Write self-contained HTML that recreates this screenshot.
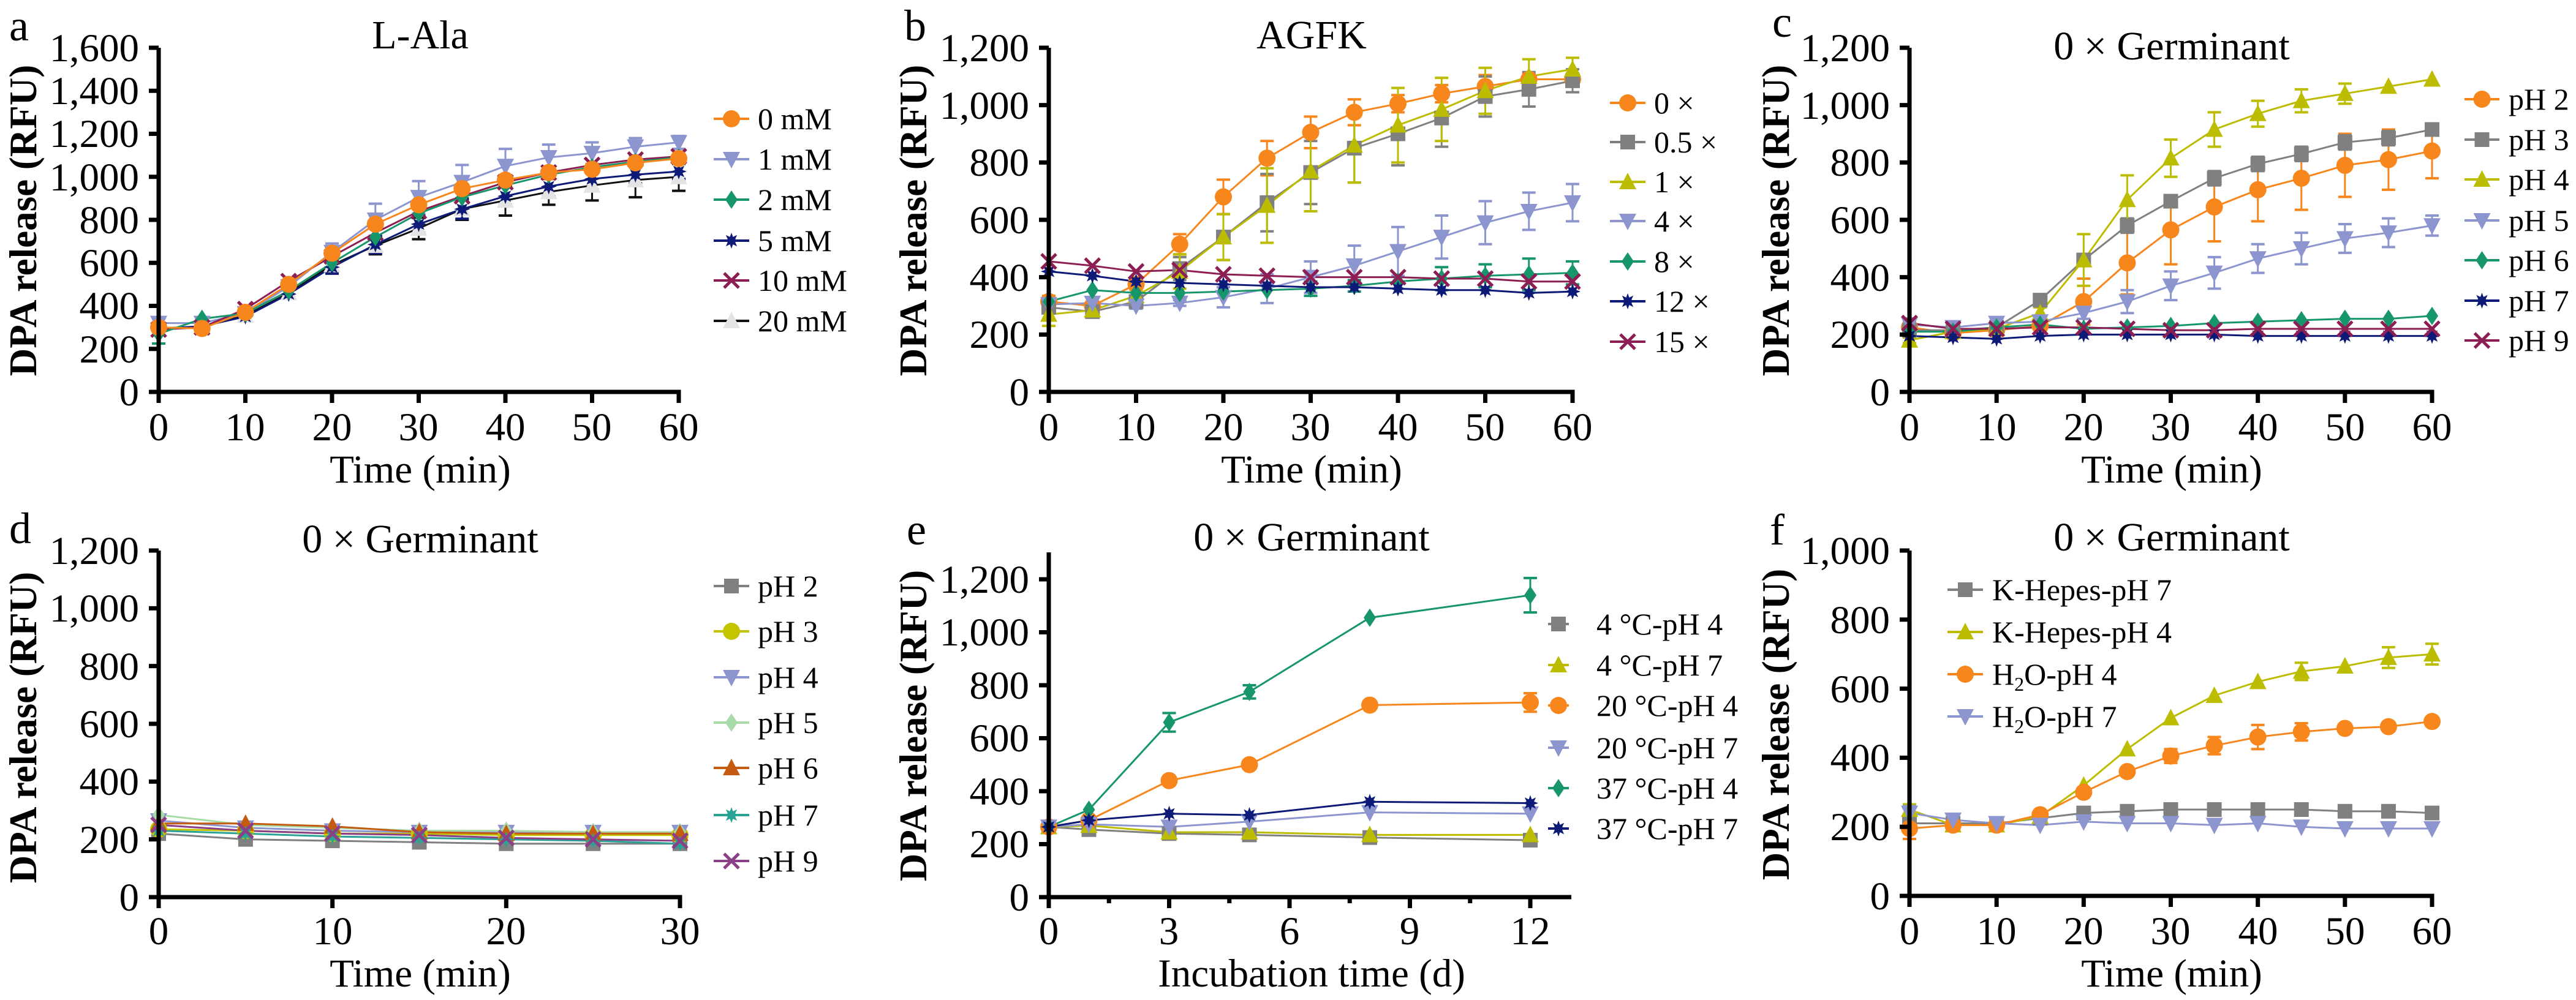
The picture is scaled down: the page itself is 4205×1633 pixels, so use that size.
<!DOCTYPE html>
<html><head><meta charset="utf-8"><style>
html,body{margin:0;padding:0;background:#fff}
svg{display:block;font-family:"Liberation Serif","Times New Roman",Times,"Nimbus Roman","DejaVu Serif",serif}
svg text{font-family:"Liberation Serif","Times New Roman",Times,"Nimbus Roman","DejaVu Serif",serif;fill:#000}
.t{font-size:65px}
.yl{font-size:65px;text-anchor:end}
.xl{font-size:65px;text-anchor:middle}
.ti{font-size:66px;text-anchor:middle}
.ax{font-size:63px;font-weight:bold;text-anchor:middle}
.pl{font-size:72px}
.lg{font-size:50px}
</style></head><body>
<svg id="s" xmlns="http://www.w3.org/2000/svg" width="4205" height="1633" viewBox="0 0 4205 1633" font-family="Liberation Serif, Times New Roman, serif">
<rect width="4205" height="1633" fill="#fff"/>
<g id="g"></g>
<text class="pl" x="15" y="66">a</text>
<text class="pl" x="1476" y="66">b</text>
<text class="pl" x="2893" y="60">c</text>
<text class="pl" x="15" y="887">d</text>
<text class="pl" x="1480" y="889">e</text>
<text class="pl" x="2889" y="889">f</text>
<text class="ti" x="686" y="79">L-Ala</text>
<text class="ti" x="2141" y="79">AGFK</text>
<text class="ti" x="3545" y="97">0 × Germinant</text>
<text class="ti" x="686" y="902">0 × Germinant</text>
<text class="ti" x="2141" y="899">0 × Germinant</text>
<text class="ti" x="3545" y="899">0 × Germinant</text>
<text class="ax" transform="translate(59,360) rotate(-90)">DPA release (RFU)</text>
<text class="ax" transform="translate(1512,360) rotate(-90)">DPA release (RFU)</text>
<text class="ax" transform="translate(2920,360) rotate(-90)">DPA release (RFU)</text>
<text class="ax" transform="translate(59,1188) rotate(-90)">DPA release (RFU)</text>
<text class="ax" transform="translate(1512,1185) rotate(-90)">DPA release (RFU)</text>
<text class="ax" transform="translate(2920,1183) rotate(-90)">DPA release (RFU)</text>
<text class="xl" x="686" y="788">Time (min)</text>
<text class="xl" x="2141" y="788">Time (min)</text>
<text class="xl" x="3545" y="788">Time (min)</text>
<text class="xl" x="686" y="1611">Time (min)</text>
<text class="xl" x="2141" y="1611">Incubation time (d)</text>
<text class="xl" x="3545" y="1611">Time (min)</text>
<g>
<text class="yl" x="227" y="662">0</text><text class="yl" x="227" y="592">200</text><text class="yl" x="227" y="521">400</text><text class="yl" x="227" y="451">600</text><text class="yl" x="227" y="381">800</text><text class="yl" x="227" y="311">1,000</text><text class="yl" x="227" y="240">1,200</text><text class="yl" x="227" y="170">1,400</text><text class="yl" x="227" y="100">1,600</text>
<text class="yl" x="1680" y="662">0</text><text class="yl" x="1680" y="568">200</text><text class="yl" x="1680" y="475">400</text><text class="yl" x="1680" y="381">600</text><text class="yl" x="1680" y="287">800</text><text class="yl" x="1680" y="194">1,000</text><text class="yl" x="1680" y="100">1,200</text>
<text class="yl" x="3085" y="662">0</text><text class="yl" x="3085" y="568">200</text><text class="yl" x="3085" y="475">400</text><text class="yl" x="3085" y="381">600</text><text class="yl" x="3085" y="287">800</text><text class="yl" x="3085" y="194">1,000</text><text class="yl" x="3085" y="100">1,200</text>
<text class="yl" x="227" y="1487">0</text><text class="yl" x="227" y="1393">200</text><text class="yl" x="227" y="1298">400</text><text class="yl" x="227" y="1204">600</text><text class="yl" x="227" y="1110">800</text><text class="yl" x="227" y="1015">1,000</text><text class="yl" x="227" y="921">1,200</text>
<text class="yl" x="1680" y="1487">0</text><text class="yl" x="1680" y="1400">200</text><text class="yl" x="1680" y="1314">400</text><text class="yl" x="1680" y="1227">600</text><text class="yl" x="1680" y="1141">800</text><text class="yl" x="1680" y="1054">1,000</text><text class="yl" x="1680" y="968">1,200</text>
<text class="yl" x="3085" y="1485">0</text><text class="yl" x="3085" y="1372">200</text><text class="yl" x="3085" y="1259">400</text><text class="yl" x="3085" y="1147">600</text><text class="yl" x="3085" y="1034">800</text><text class="yl" x="3085" y="921">1,000</text>
</g>
<text class="xl" x="259" y="719">0</text><text class="xl" x="400" y="719">10</text><text class="xl" x="542" y="719">20</text><text class="xl" x="683" y="719">30</text><text class="xl" x="825" y="719">40</text><text class="xl" x="966" y="719">50</text><text class="xl" x="1108" y="719">60</text>
<text class="xl" x="1712" y="719">0</text><text class="xl" x="1854" y="719">10</text><text class="xl" x="1997" y="719">20</text><text class="xl" x="2139" y="719">30</text><text class="xl" x="2282" y="719">40</text><text class="xl" x="2424" y="719">50</text><text class="xl" x="2567" y="719">60</text>
<text class="xl" x="3117" y="719">0</text><text class="xl" x="3259" y="719">10</text><text class="xl" x="3401" y="719">20</text><text class="xl" x="3543" y="719">30</text><text class="xl" x="3686" y="719">40</text><text class="xl" x="3828" y="719">50</text><text class="xl" x="3970" y="719">60</text>
<text class="xl" x="259" y="1542">0</text><text class="xl" x="543" y="1542">10</text><text class="xl" x="826" y="1542">20</text><text class="xl" x="1110" y="1542">30</text>
<text class="xl" x="1712" y="1542">0</text><text class="xl" x="1908" y="1542">3</text><text class="xl" x="2105" y="1542">6</text><text class="xl" x="2301" y="1542">9</text><text class="xl" x="2498" y="1542">12</text>
<text class="xl" x="3117" y="1542">0</text><text class="xl" x="3259" y="1542">10</text><text class="xl" x="3401" y="1542">20</text><text class="xl" x="3543" y="1542">30</text><text class="xl" x="3686" y="1542">40</text><text class="xl" x="3828" y="1542">50</text><text class="xl" x="3970" y="1542">60</text>
<g>
<text class="lg" x="1237" y="211">0 mM</text><text class="lg" x="1237" y="277">1 mM</text><text class="lg" x="1237" y="343">2 mM</text><text class="lg" x="1237" y="410">5 mM</text><text class="lg" x="1237" y="475">10 mM</text><text class="lg" x="1237" y="541">20 mM</text>
<text class="lg" x="2700" y="185">0 ×</text><text class="lg" x="2700" y="249">0.5 ×</text><text class="lg" x="2700" y="314">1 ×</text><text class="lg" x="2700" y="378">4 ×</text><text class="lg" x="2700" y="444">8 ×</text><text class="lg" x="2700" y="509">12 ×</text><text class="lg" x="2700" y="575">15 ×</text>
<text class="lg" x="4095" y="179">pH 2</text><text class="lg" x="4095" y="245">pH 3</text><text class="lg" x="4095" y="310">pH 4</text><text class="lg" x="4095" y="377">pH 5</text><text class="lg" x="4095" y="442">pH 6</text><text class="lg" x="4095" y="508">pH 7</text><text class="lg" x="4095" y="573">pH 9</text>
<text class="lg" x="1237" y="974">pH 2</text><text class="lg" x="1237" y="1048">pH 3</text><text class="lg" x="1237" y="1123">pH 4</text><text class="lg" x="1237" y="1197">pH 5</text><text class="lg" x="1237" y="1271">pH 6</text><text class="lg" x="1237" y="1348">pH 7</text><text class="lg" x="1237" y="1423">pH 9</text>
<text class="lg" x="2606" y="1036">4 °C-pH 4</text><text class="lg" x="2606" y="1103">4 °C-pH 7</text><text class="lg" x="2606" y="1169">20 °C-pH 4</text><text class="lg" x="2606" y="1238">20 °C-pH 7</text><text class="lg" x="2606" y="1304">37 °C-pH 4</text><text class="lg" x="2606" y="1370">37 °C-pH 7</text>
<text class="lg" x="3252" y="980">K-Hepes-pH 7</text><text class="lg" x="3252" y="1049">K-Hepes-pH 4</text><text class="lg" x="3252" y="1118">H<tspan font-size="32" dy="10">2</tspan><tspan dy="-10">O-pH 4</tspan></text><text class="lg" x="3252" y="1187">H<tspan font-size="32" dy="10">2</tspan><tspan dy="-10">O-pH 7</tspan></text>
</g>
</svg>
<script>
var NS="http://www.w3.org/2000/svg",G=document.getElementById('g');
function el(t,a){var e=document.createElementNS(NS,t);for(var k in a)e.setAttribute(k,a[k]);G.appendChild(e);return e;}
function marker(m,x,y,c,r){r=r||13;
 if(m=='o')el('circle',{cx:x,cy:y,r:r+2,fill:c});
 else if(m=='s')el('rect',{x:x-r,y:y-r,width:2*r,height:2*r,fill:c});
 else if(m=='^')el('polygon',{points:[x,y-r-3,x+r+2,y+r,x-r-2,y+r].join(','),fill:c});
 else if(m=='v')el('polygon',{points:[x,y+r+3,x+r+2,y-r,x-r-2,y-r].join(','),fill:c});
 else if(m=='d')el('polygon',{points:[x,y-r-3,x+r-2,y,x,y+r+3,x-r+2,y].join(','),fill:c});
 else if(m=='*'){var p=[];for(var i=0;i<16;i++){var a=i*Math.PI/8,rr=i%2?r*0.55:r+1;p.push(x+rr*Math.sin(a),y-rr*Math.cos(a));}el('polygon',{points:p.join(','),fill:c});}
 else if(m=='x'){el('line',{x1:x-r,y1:y-r,x2:x+r,y2:y+r,stroke:c,'stroke-width':5});el('line',{x1:x-r,y1:y+r,x2:x+r,y2:y-r,stroke:c,'stroke-width':5});}
 else if(m=='t'){el('polygon',{points:[x,y-r-3,x+r+2,y+r,x-r-2,y+r].join(','),fill:'#e4e4e4'});}
}
var O='#f7861c',L='#8d95cf',Gr='#16966a',N='#0d1a78',C='#8c1e54',K='#808080',Y='#bcbc00',B='#111';
function panel(p){
 var X=function(v){return p.ax+(p.xr-p.ax)*v/p.xmax},Yf=function(v){return p.y0-(p.y0-p.yt)*v/p.ymax};
 p.s.forEach(function(s){var xs=s.xs||p.xs,pts=[];
  s.d.forEach(function(v,i){pts.push(X(xs[i])+','+Yf(v));
   if(s.e&&s.e[i]){var x=X(xs[i]),a=Yf(v+s.e[i]),b=Yf(v-s.e[i]);
    el('line',{x1:x,y1:a,x2:x,y2:b,stroke:s.c,'stroke-width':3});
    el('line',{x1:x-11,y1:a,x2:x+11,y2:a,stroke:s.c,'stroke-width':4});
    el('line',{x1:x-11,y1:b,x2:x+11,y2:b,stroke:s.c,'stroke-width':4});}});
  el('polyline',{points:pts.join(' '),fill:'none',stroke:s.lc||s.c,'stroke-width':3});});
 p.s.forEach(function(s){var xs=s.xs||p.xs;s.d.forEach(function(v,i){marker(s.m,X(xs[i]),Yf(v),s.c,p.r);});});
 el('line',{x1:p.ax,y1:p.atop||p.yt,x2:p.ax,y2:p.y0+3.5,stroke:'#000','stroke-width':7});
 el('line',{x1:p.ax-3.5,y1:p.y0,x2:p.xend||p.xr+3.5,y2:p.y0,stroke:'#000','stroke-width':7});
 for(var v=0;v<=p.ymax+1e-6;v+=p.ys)el('line',{x1:p.ax-16,y1:Yf(v),x2:p.ax,y2:Yf(v),stroke:'#000','stroke-width':7});
 p.xt.forEach(function(v){el('line',{x1:X(v),y1:p.y0,x2:X(v),y2:p.y0+18,stroke:'#000','stroke-width':7});});
 (p.xm||[]).forEach(function(v){el('line',{x1:X(v),y1:p.y0,x2:X(v),y2:p.y0+10,stroke:'#000','stroke-width':7});});
 if(p.lg)p.s.forEach(function(s,i){var y=p.lg.ys[i];el('line',{x1:p.lg.x1,y1:y,x2:p.lg.x2,y2:y,stroke:s.lc||s.c,'stroke-width':4});marker(s.m,(p.lg.x1+p.lg.x2)/2,y,s.c,p.r);});
}
var T13=[0,5,10,15,20,25,30,35,40,45,50,55,60];
panel({ax:259,xr:1108,xmax:60,y0:640,yt:78,ymax:1600,ys:200,xs:T13,xt:[0,10,20,30,40,50,60],r:12,
 s:[
 {c:L,m:'v',d:[320,320,365,490,650,800,905,975,1050,1090,1110,1140,1160],e:[20,15,10,10,40,75,75,80,80,60,50,40,30]},
 {c:B,lc:B,m:'t',d:[290,305,355,460,590,680,760,850,890,930,960,985,1000],e:[0,0,0,0,30,40,50,50,70,60,70,80,65]},
 {c:N,m:'*',d:[295,305,350,455,580,685,780,850,910,955,990,1010,1025],e:[0,0,0,0,30,40,40,45,40,45,50,40,35]},
 {c:C,m:'x',d:[290,300,385,515,630,740,840,910,975,1020,1055,1080,1095]},
 {c:Gr,m:'d',d:[270,340,365,470,600,720,830,905,960,1010,1045,1070,1090],e:[45,0,0,0,0,0,0,0,0,0,0,0,0]},
 {c:O,m:'o',d:[300,295,370,500,645,780,870,945,985,1020,1035,1065,1085],e:[20,20,10,10,20,20,15,20,15,15,15,15,15]}]});
(function(){var ys=[194,260,326,393,458,524],cs=[[O,'o'],[L,'v'],[Gr,'d'],[N,'*'],[C,'x'],[B,'t']];
cs.forEach(function(c,i){el('line',{x1:1165,y1:ys[i],x2:1223,y2:ys[i],stroke:c[0],'stroke-width':4});marker(c[1],1194,ys[i],c[0],12);});})();
panel({ax:1712,xr:2567,xmax:60,y0:640,yt:78,ymax:1200,ys:200,xs:T13,xt:[0,10,20,30,40,50,60],r:12,
 lg:{x1:2628,x2:2686,ys:[168,232,297,361,427,492,558]},
 s:[
 {c:O,m:'o',d:[315,300,375,515,680,815,905,975,1005,1040,1065,1090,1090],e:[20,10,15,35,60,60,55,45,30,30,40,20,20]},
 {c:K,m:'s',d:[295,280,315,430,540,660,765,850,900,955,1030,1055,1085],e:[20,10,10,40,80,100,110,120,110,100,70,60,40]},
 {c:Y,m:'^',d:[270,285,335,420,540,650,770,860,930,985,1050,1100,1125],e:[40,15,20,60,80,130,140,130,130,110,80,60,40]},
 {c:L,m:'v',d:[305,310,300,310,330,360,400,440,490,540,590,630,660],e:[10,20,10,10,35,50,55,70,85,75,75,65,65]},
 {c:Gr,m:'d',d:[315,355,345,345,350,355,360,370,385,395,405,410,415],e:[0,0,0,0,0,0,25,20,0,40,40,55,40]},
 {c:N,m:'*',d:[420,405,385,380,375,370,365,365,360,355,355,345,350]},
 {c:C,m:'x',d:[455,440,420,425,410,405,400,400,400,395,395,385,385]}]});
panel({ax:3117,xr:3970,xmax:60,y0:640,yt:78,ymax:1200,ys:200,xs:T13,xt:[0,10,20,30,40,50,60],r:12,
 lg:{x1:4023,x2:4080,ys:[162,228,293,360,425,491,556]},
 s:[
 {c:O,m:'o',d:[225,205,215,230,315,450,565,645,705,745,790,810,840],e:[30,10,10,15,80,110,120,120,110,110,110,105,95]},
 {c:K,m:'s',d:[215,215,225,320,460,580,665,745,795,830,870,885,915],e:[10,10,10,15,20,25,20,25,25,25,25,25,20]},
 {c:Y,m:'^',d:[180,210,220,275,460,670,815,915,970,1015,1040,1065,1090],e:[10,10,10,20,90,85,65,60,45,40,35,0,0]},
 {c:L,m:'v',d:[235,225,240,245,275,315,370,415,465,500,535,555,580],e:[10,10,10,10,20,40,50,55,50,55,50,50,35]},
 {c:Gr,m:'d',d:[210,210,225,235,220,225,230,240,245,250,255,255,265]},
 {c:N,m:'*',d:[195,190,185,195,200,200,200,200,195,195,195,195,195]},
 {c:C,m:'x',d:[240,220,220,225,225,220,215,215,220,220,220,220,220]}]});
panel({ax:259,xr:1110,xmax:30,y0:1465,yt:899,ymax:1200,ys:200,xs:[0,5,10,15,20,25,30],xt:[0,10,20,30],r:12,
 lg:{x1:1165,x2:1223,ys:[957,1031,1106,1180,1254,1331,1406]},
 s:[
 {c:K,m:'s',d:[220,200,195,190,185,185,185]},
 {c:'#c4c400',m:'o',d:[235,230,220,220,215,215,215]},
 {c:L,m:'v',d:[265,240,230,225,225,225,225]},
 {c:'#a8dba8',m:'d',d:[285,250,240,230,230,225,225]},
 {c:'#c55a11',m:'^',d:[255,255,245,225,220,220,220]},
 {c:'#2aa396',m:'*',d:[230,220,210,205,200,195,185]},
 {c:'#8b3f86',m:'x',d:[250,230,220,215,205,200,195]}]});
panel({ax:1712,xr:2498,xmax:12,y0:1465,yt:946,ymax:1200,ys:200,atop:902,xend:2565,xs:[0,1,3,5,8,12],xt:[0,3,6,9,12],xm:[1.5,4.5,7.5,10.5],r:12,
 lg:{x1:2527,x2:2561,ys:[1019,1086,1152,1221,1287,1353]},
 s:[
 {c:K,m:'s',d:[265,255,240,235,225,215]},
 {c:Y,m:'^',d:[265,270,245,245,235,235]},
 {c:O,m:'o',d:[265,290,440,500,725,735],e:[0,0,0,0,0,35]},
 {c:L,m:'v',d:[265,275,265,285,320,315]},
 {c:Gr,m:'d',d:[265,330,660,775,1055,1140],e:[0,0,35,25,0,65]},
 {c:N,m:'*',d:[265,290,315,310,360,355]}]});
panel({ax:3117,xr:3970,xmax:60,y0:1463,yt:899,ymax:1000,ys:200,xs:T13,xt:[0,10,20,30,40,50,60],r:12,
 lg:{x1:3179,x2:3237,ys:[963,1032,1101,1170]},
 s:[
 {c:K,m:'s',d:[210,210,210,225,240,245,250,250,250,250,245,245,240]},
 {c:Y,m:'^',d:[250,205,205,230,320,425,515,580,620,650,665,690,700],e:[15,0,0,0,0,0,0,0,0,25,0,30,30]},
 {c:O,m:'o',d:[195,205,205,235,300,360,405,435,460,475,485,490,505],e:[30,0,0,0,0,0,20,25,35,25,0,0,0]},
 {c:L,m:'v',d:[240,220,210,205,215,210,210,205,210,200,195,195,195],e:[20,0,0,0,0,0,0,0,0,0,0,0,0]}]});
</script>
</body></html>
